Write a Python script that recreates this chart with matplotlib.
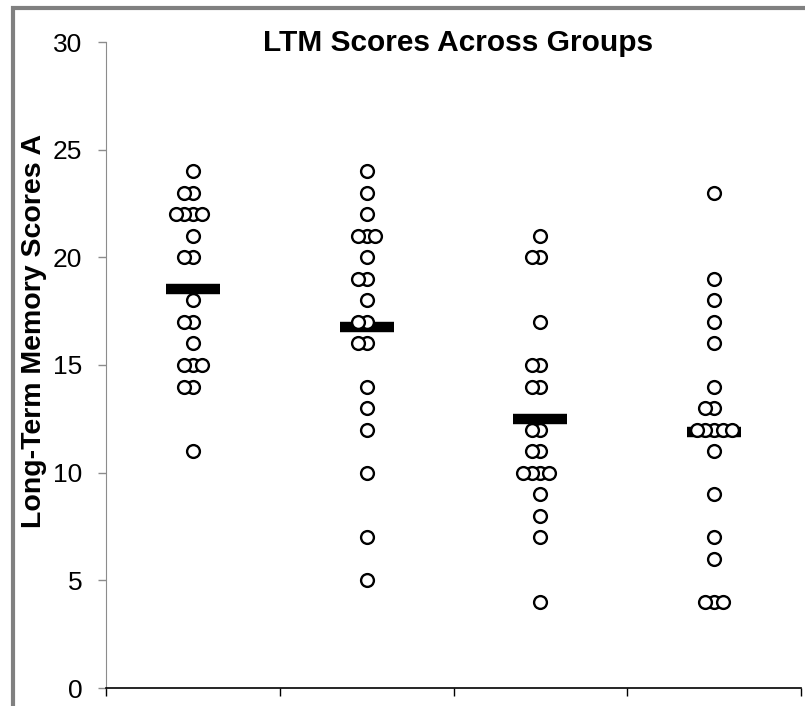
import numpy as np
import matplotlib
matplotlib.use('Agg')
import matplotlib.pyplot as plt
from matplotlib.patches import Rectangle

plt.rcParams['font.family'] = ['Liberation Sans', 'DejaVu Sans']

# LTM scores per group
group1 = [24, 23, 23, 22, 22, 22, 22, 21, 20, 20, 18, 17, 17, 16, 15, 15, 15, 14, 14, 11]
group2 = [24, 23, 22, 21, 21, 21, 20, 19, 19, 18, 17, 17, 16, 16, 14, 13, 12, 10, 7, 5]
group3 = [21, 20, 20, 17, 15, 15, 14, 14, 12, 12, 11, 11, 10, 10, 10, 10, 9, 8, 7, 4]
group4 = [23, 19, 18, 17, 16, 14, 13, 13, 12, 12, 12, 12, 12, 11, 9, 7, 6, 4, 4, 4]
groups = [group1, group2, group3, group4]

title = 'LTM Scores Across Groups'
ylabel = 'Long-Term Memory Scores A'

fig = plt.figure(figsize=(8.05, 7.06), dpi=100)
ax = fig.add_axes([106 / 805, 1 - 688 / 706, 695 / 805, 646 / 706])

# side-by-side order for repeated scores
spread = [0, -1, 1, -2, 2, -3, 3]
step = 0.05

for i, scores in enumerate(groups):
    center = i + 0.5
    xs, seen = [], {}
    for s in scores:
        k = seen.get(s, 0)
        seen[s] = k + 1
        xs.append(center + spread[k] * step)
    ax.hlines(np.mean(scores), center - 0.155, center + 0.155, color='black',
              linewidth=7.5, zorder=2)
    ax.scatter(xs, scores, s=85, facecolor='white', edgecolor='black',
               linewidth=1.7, zorder=3, clip_on=False)

ax.set_xlim(0, 4)
ax.set_ylim(0, 30)
ax.set_yticks(range(0, 31, 5))
ax.set_xticks(range(0, 5))
ax.set_xticklabels([])

for side in ['top', 'right']:
    ax.spines[side].set_visible(False)
ax.spines['left'].set_color('#8c8c8c')
ax.spines['bottom'].set_color('black')
ax.spines['bottom'].set_linewidth(1.2)
ax.tick_params(axis='y', direction='out', length=6, width=1, color='#8c8c8c',
               labelsize=19, pad=11)
ax.tick_params(axis='x', direction='out', length=6, width=1, color='black')

fig.text(458 / 805, 1 - 51 / 706, title, ha='center', va='baseline',
         fontsize=21.5, fontweight='bold')
fig.text(34 / 805, 1 - 331 / 706, ylabel, ha='center', va='center',
         rotation=90, fontsize=20.5, fontweight='bold')

# grey chart-area frame, clipped at right and bottom
fig.patches.append(Rectangle((13 / 805, -0.05), 1.2, 1 - 8 / 706 + 0.05,
                             transform=fig.transFigure, fill=False,
                             edgecolor='#808080', linewidth=3))

fig.savefig('out.png', dpi=100)
